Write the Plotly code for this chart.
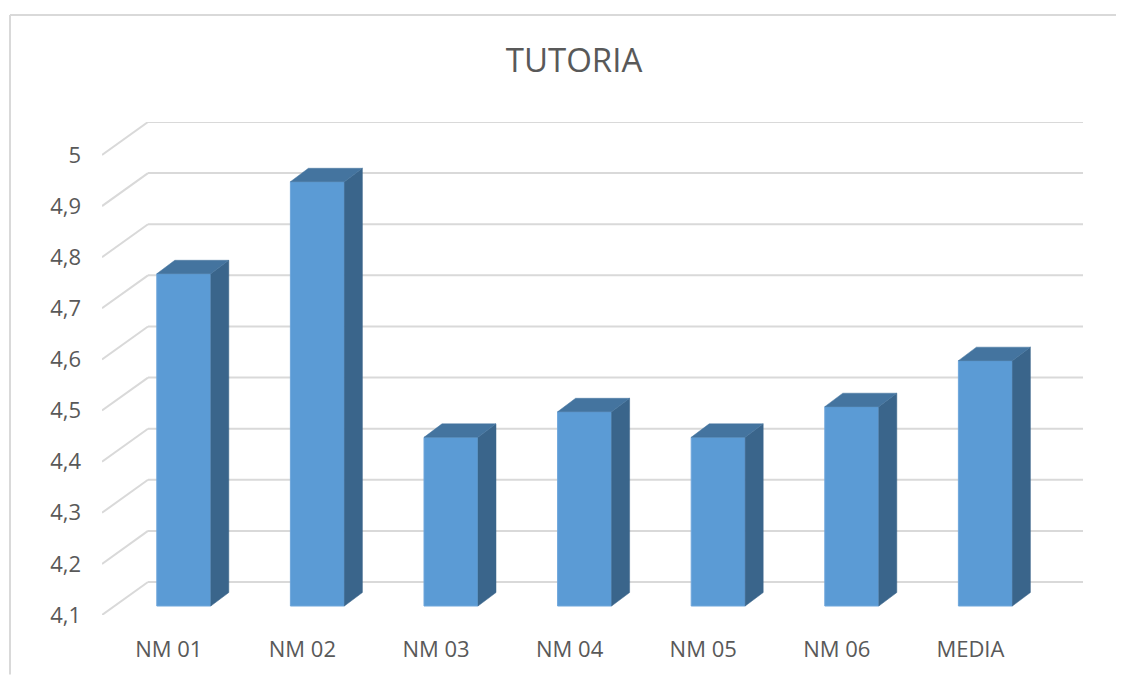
"""TUTORIA: 3D-look column chart drawn on a flat Plotly axis."""

import plotly.graph_objects as go

categories = ["NM 01", "NM 02", "NM 03", "NM 04", "NM 05", "NM 06", "MEDIA"]
values = [4.75, 4.93, 4.43, 4.48, 4.43, 4.49, 4.58]
y_ticks = [4.1, 4.2, 4.3, 4.4, 4.5, 4.6, 4.7, 4.8, 4.9, 5.0]
y_labels = ["4,1", "4,2", "4,3", "4,4", "4,5", "4,6", "4,7", "4,8", "4,9", "5"]

# the page body has an 8px margin, so the figure is 8px smaller than the window
PAGE = 8
WIDTH, HEIGHT = 1124 - PAGE, 675 - PAGE
LEFT, RIGHT, TOP, BOTTOM = 102 - PAGE, 1083 - PAGE, 122 - PAGE, 615.5 - PAGE
X_UNIT = 133.6   # px per category
Y_UNIT = 511.7   # px per value unit

# floor depth, bar offset from the front plane, bar depth (axis units)
WALL_DX, WALL_DY = 46 / X_UNIT, 33 / Y_UNIT
BAR_DX, BAR_DY = 15 / X_UNIT, 9 / Y_UNIT
SIDE_DX, SIDE_DY = 18 / X_UNIT, 13.5 / Y_UNIT
BAR_W = 54 / X_UNIT

FRONT, SIDE, LID = "#5b9bd5", "#3a658b", "#44749f"
GRID, TEXT = "#d9d9d9", "#595959"
FONT = "Open Sans"

x_lo = -0.5
x_hi = x_lo + (RIGHT - LEFT) / X_UNIT
y_lo = y_ticks[0]
y_hi = y_ticks[-1] + WALL_DY

fig = go.Figure()

xs = list(range(len(categories)))
fig.add_trace(go.Bar(
    x=[i + BAR_DX for i in xs],
    y=[v - y_lo for v in values],
    base=y_lo + BAR_DY, width=BAR_W,
    marker=dict(color=FRONT, line=dict(color="#6ea6db", width=1)),
    showlegend=False, hoverinfo="skip",
))

for i, v in zip(xs, values):
    x0 = i + BAR_DX - BAR_W / 2
    x1 = i + BAR_DX + BAR_W / 2
    base = y_lo + BAR_DY
    top = v + BAR_DY
    fig.add_trace(go.Scatter(
        x=[x1, x1 + SIDE_DX, x1 + SIDE_DX, x1, x1],
        y=[base, base + SIDE_DY, top + SIDE_DY, top, base],
        mode="lines", fill="toself", fillcolor=SIDE,
        line=dict(color=SIDE, width=0.5), showlegend=False, hoverinfo="skip",
    ))
    fig.add_trace(go.Scatter(
        x=[x0, x1, x1 + SIDE_DX, x0 + SIDE_DX, x0],
        y=[top, top, top + SIDE_DY, top + SIDE_DY, top],
        mode="lines", fill="toself", fillcolor=LID,
        line=dict(color=LID, width=0.5), showlegend=False, hoverinfo="skip",
    ))

shapes = []
for t in y_ticks:
    # side wall diagonal, then the back wall line
    shapes.append(dict(type="line", xref="x", yref="y", layer="below",
                       x0=x_lo, y0=t, x1=x_lo + WALL_DX, y1=t + WALL_DY,
                       line=dict(color=GRID, width=2)))
    shapes.append(dict(type="line", xref="x", yref="y", layer="below",
                       x0=x_lo + WALL_DX, y0=t + WALL_DY, x1=x_hi, y1=t + WALL_DY,
                       line=dict(color=GRID, width=2)))

# outer chart frame, only its top and left edges are in the picture
px_w, px_h = RIGHT - LEFT, BOTTOM - TOP
fx = (10 - PAGE - LEFT) / px_w
fy = (BOTTOM - (15 - PAGE)) / px_h
shapes.append(dict(type="line", xref="paper", yref="paper", layer="below",
                   x0=fx, y0=fy, x1=(WIDTH - LEFT) / px_w, y1=fy,
                   line=dict(color=GRID, width=2)))
shapes.append(dict(type="line", xref="paper", yref="paper", layer="below",
                   x0=fx, y0=fy, x1=fx, y1=(BOTTOM - HEIGHT) / px_h,
                   line=dict(color=GRID, width=2)))

fig.update_layout(
    width=WIDTH, height=HEIGHT,
    autosize=False,
    margin=dict(l=LEFT, r=WIDTH - RIGHT, t=TOP, b=HEIGHT - BOTTOM, pad=0),
    paper_bgcolor="white", plot_bgcolor="rgba(0,0,0,0)",
    title=dict(text="TUTORIA", x=(574 - PAGE) / WIDTH, xanchor="center",
               y=1 - (60 - PAGE) / HEIGHT,
               yanchor="middle", font=dict(family=FONT, size=33, color=TEXT)),
    font=dict(family=FONT, color=TEXT),
    showlegend=False,
    shapes=shapes,
    xaxis=dict(range=[x_lo, x_hi], tickvals=xs, ticktext=categories,
               showgrid=False, zeroline=False, showline=False, ticks="",
               ticklabelstandoff=19, tickfont=dict(size=22, color=TEXT)),
    yaxis=dict(range=[y_lo, y_hi], tickvals=y_ticks, ticktext=y_labels,
               showgrid=False, zeroline=False, showline=False, ticks="",
               ticklabelstandoff=20, tickfont=dict(size=22, color=TEXT)),
)

fig.write_html("out.html")
